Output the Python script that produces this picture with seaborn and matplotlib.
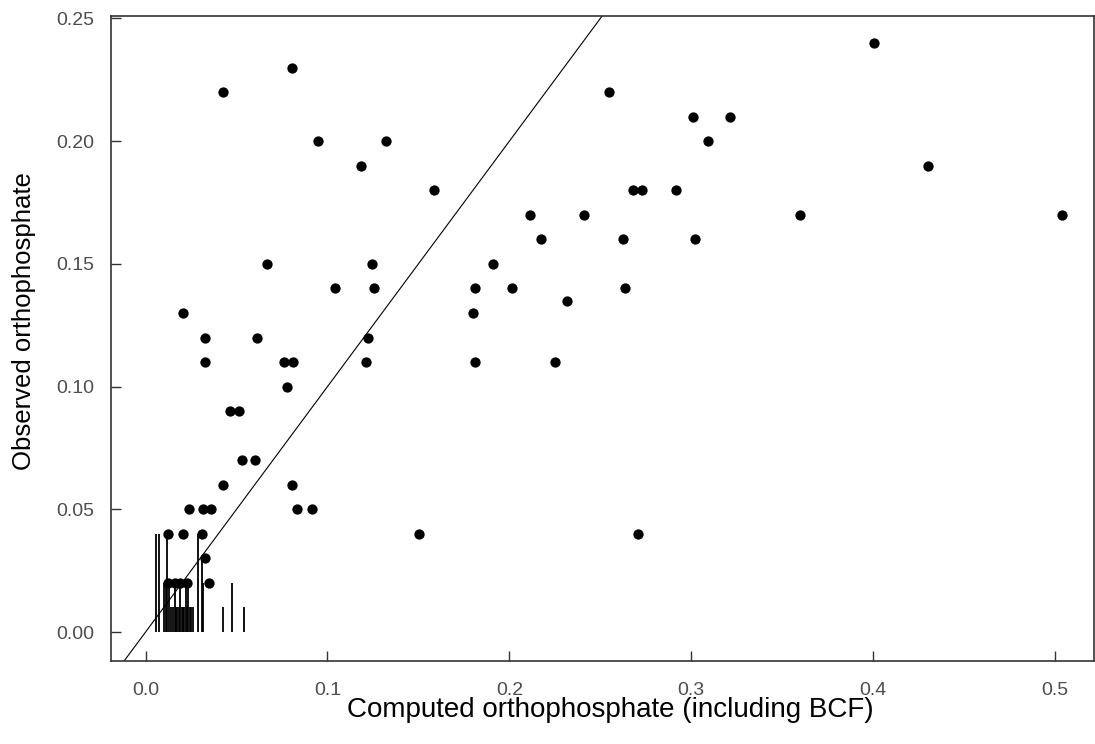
import numpy as np
import pandas as pd
import matplotlib
matplotlib.use("Agg")
import matplotlib.pyplot as plt
import seaborn as sns

# Detected samples: computed vs observed orthophosphate
computed = [
    0.0424, 0.0807, 0.0947, 0.1320, 0.1183, 0.1586, 0.0208, 0.0670, 0.0327, 0.0327,
    0.0615, 0.1043, 0.1247, 0.1256, 0.1222, 0.1212, 0.0761, 0.0809, 0.0776, 0.0466,
    0.0512, 0.0532, 0.0604, 0.0424, 0.0805, 0.0831, 0.0914, 0.0241, 0.0314, 0.0362,
    0.1505, 0.2709, 0.2550, 0.4005, 0.3010, 0.3213, 0.3094, 0.4304, 0.2680, 0.2728,
    0.2915, 0.2112, 0.2411, 0.3598, 0.5040, 0.2174, 0.2625, 0.3021, 0.1909, 0.1811,
    0.2015, 0.2636, 0.2316, 0.1800, 0.1813, 0.2250,
    0.0125, 0.0208, 0.0312, 0.0327, 0.0349, 0.0125, 0.0160, 0.0190, 0.0228,
]
observed = [
    0.22, 0.23, 0.20, 0.20, 0.19, 0.18, 0.13, 0.15, 0.12, 0.11,
    0.12, 0.14, 0.15, 0.14, 0.12, 0.11, 0.11, 0.11, 0.10, 0.09,
    0.09, 0.07, 0.07, 0.06, 0.06, 0.05, 0.05, 0.05, 0.05, 0.05,
    0.04, 0.04, 0.22, 0.24, 0.21, 0.21, 0.20, 0.19, 0.18, 0.18,
    0.18, 0.17, 0.17, 0.17, 0.17, 0.16, 0.16, 0.16, 0.15, 0.14,
    0.14, 0.14, 0.135, 0.13, 0.11, 0.11,
    0.04, 0.04, 0.04, 0.03, 0.02, 0.02, 0.02, 0.02, 0.02,
]

# Censored samples: drawn as segments from zero up to the reporting limit
censored_x = [
    0.0058, 0.0076, 0.0120, 0.0100, 0.0110, 0.0130, 0.0140, 0.0150, 0.0160, 0.0168,
    0.0175, 0.0183, 0.0190, 0.0198, 0.0205, 0.0213, 0.0220, 0.0228, 0.0235, 0.0243,
    0.0250, 0.0260, 0.0288, 0.0309, 0.0318, 0.0424, 0.0477, 0.0543,
]
censored_limit = [
    0.04, 0.04, 0.04, 0.02, 0.02, 0.02, 0.01, 0.01, 0.02, 0.01,
    0.01, 0.01, 0.02, 0.01, 0.01, 0.01, 0.02, 0.01, 0.02, 0.01,
    0.01, 0.01, 0.04, 0.03, 0.02, 0.01, 0.02, 0.01,
]

x_ticks = [0.0, 0.1, 0.2, 0.3, 0.4, 0.5]
y_ticks = [0.00, 0.05, 0.10, 0.15, 0.20, 0.25]

df = pd.DataFrame({"computed": computed, "observed": observed})

sns.set_theme(style="white")
plt.rcParams["font.family"] = ["Liberation Sans", "DejaVu Sans"]

fig = plt.figure(figsize=(10.95, 7.44), dpi=100)
ax = fig.add_axes([111 / 1095, 1 - 661 / 744, (1094 - 111) / 1095, (661 - 16) / 744])

ax.vlines(censored_x, 0, censored_limit, colors="black", linewidth=1.3, zorder=2)
sns.scatterplot(data=df, x="computed", y="observed", ax=ax, color="black",
                s=55, edgecolor="black", linewidth=0, zorder=3)
ax.axline((0, 0), slope=1, color="black", linewidth=0.8, zorder=1)

ax.set_xlim(-0.019, 0.5214)
ax.set_ylim(-0.0118, 0.251)
ax.set_xticks(x_ticks)
ax.set_yticks(y_ticks)
ax.tick_params(axis="both", direction="in", length=7, width=1, color="#333333",
               bottom=True, left=True)
ax.tick_params(axis="x", pad=15)
ax.tick_params(axis="y", pad=12)
ax.set_xticklabels([f"{v:.1f}" for v in x_ticks], fontsize=14, color="#4d4d4d")
ax.set_yticklabels([f"{v:.2f}" for v in y_ticks], fontsize=14, color="#4d4d4d")
for sp in ax.spines.values():
    sp.set_color("#333333")
    sp.set_linewidth(1.2)

ax.set_xlabel("Computed orthophosphate (including BCF)", fontsize=20, color="black")
ax.set_ylabel("Observed orthophosphate", fontsize=18.5, color="black")
ax.xaxis.set_label_coords(0.508, -0.056)
ax.yaxis.set_label_coords(-0.076, 0.527)

fig.savefig("out.png", dpi=100, facecolor="white")
